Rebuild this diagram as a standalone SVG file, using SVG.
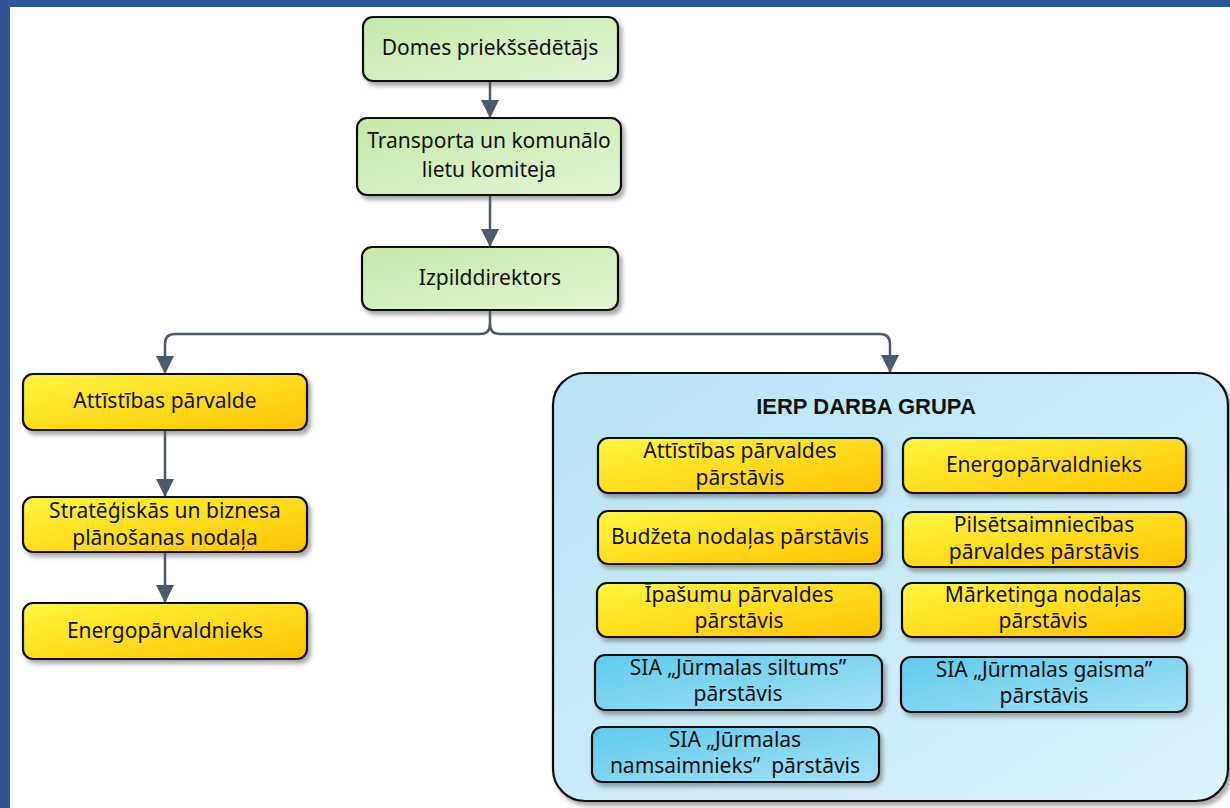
<svg xmlns="http://www.w3.org/2000/svg" width="1230" height="808" viewBox="0 0 1230 808">
<defs>
<linearGradient id="gGreen" x1="0" y1="0" x2="1" y2="1">
<stop offset="0" stop-color="#c6e8a8"/><stop offset="1" stop-color="#e3f5d6"/>
</linearGradient>
<linearGradient id="gYellow" x1="0" y1="0" x2="1" y2="1">
<stop offset="0" stop-color="#fff640"/><stop offset="1" stop-color="#ffc300"/>
</linearGradient>
<linearGradient id="gBlue" x1="0" y1="0" x2="1" y2="1">
<stop offset="0" stop-color="#5fcaed"/><stop offset="1" stop-color="#a6e1f5"/>
</linearGradient>
<linearGradient id="gCont" x1="0" y1="0" x2="1" y2="1">
<stop offset="0" stop-color="#b7e4f4"/><stop offset="1" stop-color="#dcf3fb"/>
</linearGradient>
<filter id="sh" x="-10%" y="-20%" width="125%" height="150%">
<feDropShadow dx="3" dy="4" stdDeviation="2" flood-color="#555" flood-opacity="0.5"/>
</filter>
<marker id="arr" markerUnits="userSpaceOnUse" markerWidth="18" markerHeight="18" viewBox="0 0 18 18" refX="18" refY="9" orient="auto">
<path d="M0,0 L18,9 L0,18 z" fill="#4b586d"/>
</marker>
<style>
.box{stroke:#111;stroke-width:2.2;filter:url(#sh)}
.green{fill:url(#gGreen)}
.yellow{fill:url(#gYellow)}
.blue{fill:url(#gBlue)}
.t{font-family:"Noto Sans","DejaVu Sans",sans-serif;font-size:21px;fill:#111;text-anchor:middle;white-space:pre}
.title{font-family:"Liberation Sans",Arial,sans-serif;font-size:22px;font-weight:bold;fill:#111;text-anchor:middle}
.con{fill:none;stroke:#4b586d;stroke-width:2.5}
</style>
</defs>
<rect x="0" y="0" width="1230" height="808" fill="#ffffff"/>
<rect x="0" y="0" width="1230" height="7" fill="#2f5597"/>
<rect x="0" y="0" width="10" height="808" fill="#2f5597"/>

<g id="connectors">
<path class="con" d="M490,81 V118" marker-end="url(#arr)"/>
<path class="con" d="M490,195 V247" marker-end="url(#arr)"/>
<path class="con" d="M490,310 V324 Q490,334 480,334 H175 Q165,334 165,344 V374" marker-end="url(#arr)"/>
<path class="con" d="M490,324 Q490,334 500,334 H880 Q890,334 890,344 V373" marker-end="url(#arr)"/>
<path class="con" d="M165,430 V497" marker-end="url(#arr)"/>
<path class="con" d="M165,552 V603" marker-end="url(#arr)"/>
</g>

<g id="n-domes">
<rect class="box green" x="363" y="17" width="255" height="64" rx="10"/>
<text class="t" x="490" y="55">Domes priekšsēdētājs</text>
</g>
<g id="n-komiteja">
<rect class="box green" x="357" y="118" width="264" height="77" rx="10"/>
<text class="t" x="489" y="148">Transporta un komunālo</text>
<text class="t" x="489" y="177">lietu komiteja</text>
</g>
<g id="n-izpild">
<rect class="box green" x="362" y="247" width="256" height="63" rx="10"/>
<text class="t" x="490" y="285">Izpilddirektors</text>
</g>

<g id="n-attistibas">
<rect class="box yellow" x="23" y="374" width="284" height="56" rx="10"/>
<text class="t" x="165" y="408">Attīstības pārvalde</text>
</g>
<g id="n-strategiskas">
<rect class="box yellow" x="23" y="497" width="284" height="55" rx="10"/>
<text class="t" x="165" y="518">Stratēģiskās un biznesa</text>
<text class="t" x="165" y="545">plānošanas nodaļa</text>
</g>
<g id="n-energo-left">
<rect class="box yellow" x="23" y="603" width="284" height="56" rx="10"/>
<text class="t" x="165" y="638">Energopārvaldnieks</text>
</g>

<g id="n-ierp">
<rect x="553" y="373" width="675" height="428" rx="32" fill="url(#gCont)" stroke="#111" stroke-width="2.2" filter="url(#sh)"/>
<text class="title" x="866" y="414">IERP DARBA GRUPA</text>
</g>

<g id="n-att-parst">
<rect class="box yellow" x="598" y="438" width="284" height="55" rx="10"/>
<text class="t" x="740" y="458">Attīstības pārvaldes</text>
<text class="t" x="740" y="485">pārstāvis</text>
</g>
<g id="n-energo-right">
<rect class="box yellow" x="903" y="438" width="283" height="55" rx="10"/>
<text class="t" x="1044" y="472">Energopārvaldnieks</text>
</g>
<g id="n-budzeta">
<rect class="box yellow" x="598" y="511" width="284" height="53" rx="10"/>
<text class="t" x="740" y="544">Budžeta nodaļas pārstāvis</text>
</g>
<g id="n-pilsetsaimniecibas">
<rect class="box yellow" x="903" y="512" width="283" height="55" rx="10"/>
<text class="t" x="1044" y="532">Pilsētsaimniecības</text>
<text class="t" x="1044" y="559">pārvaldes pārstāvis</text>
</g>
<g id="n-ipasumu">
<rect class="box yellow" x="597" y="583" width="284" height="54" rx="10"/>
<text class="t" x="739" y="602">Īpašumu pārvaldes</text>
<text class="t" x="739" y="628">pārstāvis</text>
</g>
<g id="n-marketinga">
<rect class="box yellow" x="902" y="583" width="283" height="54" rx="10"/>
<text class="t" x="1043" y="602">Mārketinga nodaļas</text>
<text class="t" x="1043" y="628">pārstāvis</text>
</g>
<g id="n-siltums">
<rect class="box blue" x="595" y="655" width="287" height="55" rx="10"/>
<text class="t" x="738" y="675">SIA „Jūrmalas siltums”</text>
<text class="t" x="738" y="701">pārstāvis</text>
</g>
<g id="n-gaisma">
<rect class="box blue" x="901" y="657" width="286" height="55" rx="10"/>
<text class="t" x="1044" y="677">SIA „Jūrmalas gaisma”</text>
<text class="t" x="1044" y="703">pārstāvis</text>
</g>
<g id="n-namsaimnieks">
<rect class="box blue" x="592" y="727" width="287" height="55" rx="10"/>
<text class="t" x="735" y="747">SIA „Jūrmalas</text>
<text class="t" x="735" y="773">namsaimnieks”  pārstāvis</text>
</g>
</svg>
